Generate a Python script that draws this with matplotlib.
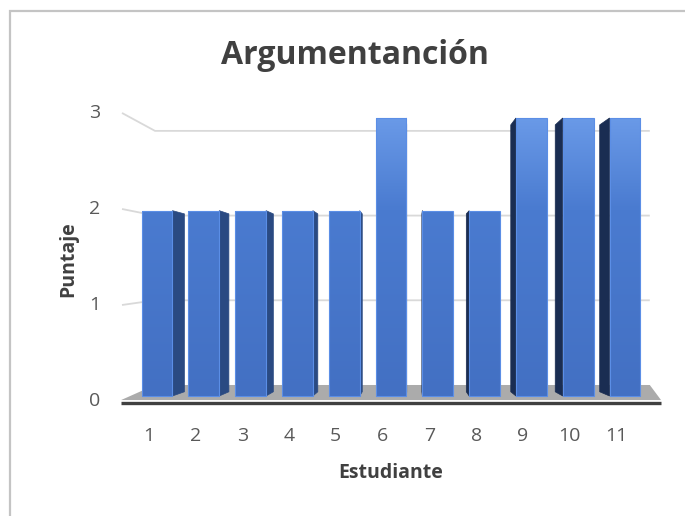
import numpy as np
import matplotlib
matplotlib.use("Agg")
import matplotlib.pyplot as plt
from matplotlib.patches import Polygon
from matplotlib.colors import LinearSegmentedColormap

plt.rcParams['font.family'] = ['Open Sans', 'DejaVu Sans']

# data
estudiantes = ['1', '2', '3', '4', '5', '6', '7', '8', '9', '10', '11']
puntajes = [2, 2, 2, 2, 2, 3, 2, 2, 3, 3, 3]
niveles = [0, 1, 2, 3]

W, H = 685, 516
fig = plt.figure(figsize=(W / 100, H / 100), dpi=100)
ax = fig.add_axes([0, 0, 1, 1])
ax.axis('off')

# outer chart frame (runs off the right and bottom edges)
fig.patches.append(plt.Rectangle((10 / W, -0.05), 1.1, 1 - 11 / H + 0.05,
                                 transform=fig.transFigure, fill=False,
                                 edgecolor='#c4c4c4', lw=1.6))

# 3d look: back wall sits a bit higher and shorter than the front edge
def wall_front(v):
    return (-5 + 96 * v) / 92.67


def wall_back(v):
    return (11 + 84.7 * v) / 92.67


x_front_l, x_back_l = 0.252, 0.957
x_front_r, x_back_r = 11.77, 11.53

# gridlines on side + back wall
for v in niveles[1:]:
    ax.plot([x_front_l, x_back_l, x_back_r],
            [wall_front(v), wall_back(v), wall_back(v)],
            color='#d9d9d9', lw=1.3, zorder=1, solid_capstyle='butt')

# floor
floor = Polygon([(x_front_l - 0.02, wall_front(0) + 0.01), (x_front_r, wall_front(0) + 0.01),
                 (x_back_r, wall_back(0)), (x_back_l, wall_back(0))],
                closed=True, facecolor='#ababab', edgecolor='none', zorder=2)
ax.add_patch(floor)
ax.plot([x_front_l - 0.03, x_front_r], [wall_front(0) - 0.02] * 2,
        color='#404040', lw=2.4, zorder=3, solid_capstyle='butt')

# bars
x = np.arange(1, len(puntajes) + 1)
ancho = 0.66
vp_x, vp_y = 6.45, 1.133
kx, ky = 0.05, 0.04
top = max(niveles)

# shading follows absolute height, so taller bars get lighter tops
cmap = LinearSegmentedColormap.from_list(
    'barra', [(0, '#4370c3'), (0.67, '#4a7bd0'), (1, '#6a9ae8')])

bars = ax.bar(x, puntajes, width=ancho, color='none', edgecolor='#5b8ee6',
              lw=0.8, zorder=6)

for xi, h, b in zip(x, puntajes, bars):
    xl, xr = xi - ancho / 2, xi + ancho / 2
    if xr < vp_x:
        e, col = xr, '#2a4a82'
    elif xl > vp_x:
        e, col = xl, '#1a2d52'
    else:
        e = None
    if e is not None:
        dx = kx * (vp_x - e)
        side = Polygon([(e, 0), (e, h), (e + dx, h + ky * (vp_y - h)),
                        (e + dx, ky * vp_y)], closed=True,
                       facecolor=col, edgecolor=col, lw=0.5, zorder=4)
        ax.add_patch(side)
    grad = np.linspace(0, h / top, 256).reshape(-1, 1)
    im = ax.imshow(grad, cmap=cmap, origin='lower', aspect='auto',
                   extent=[xl, xr, 0, h], vmin=0, vmax=1,
                   zorder=5, interpolation='bilinear')
    im.set_clip_path(b)

ax.set_xlim(-2.355, 12.282)
ax.set_ylim(-1.295, 4.273)

# tick labels
for v in niveles:
    ax.text(-0.325, wall_front(v), str(v), ha='center', va='center',
            fontsize=14, color='#595959')
for xi, lab in zip(x, estudiantes):
    ax.text(xi - 0.18, -0.432, lab, ha='center', va='center',
            fontsize=14, color='#595959')

fig.text(355 / W, 1 - 64 / H, 'Argumentanción', ha='center', va='baseline',
         fontsize=23, fontweight='bold', color='#404040')
fig.text(391 / W, 1 - 478 / H, 'Estudiante', ha='center', va='baseline',
         fontsize=14, fontweight='bold', color='#404040')
fig.text(68 / W, 1 - 259 / H, 'Puntaje', ha='center', va='center',
         rotation=90, fontsize=14, fontweight='bold', color='#404040')

fig.savefig('out.png', dpi=100)
